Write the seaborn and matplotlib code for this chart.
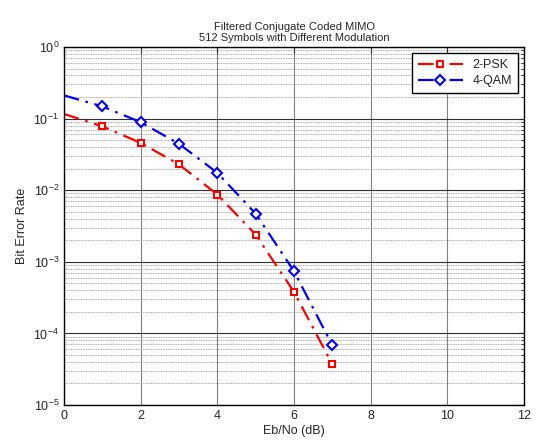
import numpy as np
import pandas as pd
import matplotlib
matplotlib.use("Agg")
import matplotlib.pyplot as plt
import seaborn as sns
from matplotlib.ticker import LogLocator, NullFormatter
from matplotlib.lines import Line2D

ebno = [0, 1, 2, 3, 4, 5, 6, 7]
ber_psk = [0.116, 0.078, 0.0458, 0.0229, 0.0087, 0.0024, 3.8e-4, 3.7e-5]
ber_qam = [0.211, 0.148, 0.089, 0.0444, 0.0175, 0.0047, 7.4e-4, 6.8e-5]
labels = ["2-PSK", "4-QAM"]

df = pd.DataFrame({
    "Eb/No": ebno * 2,
    "BER": ber_psk + ber_qam,
    "Modulation": [labels[0]] * len(ebno) + [labels[1]] * len(ebno),
})

sns.set_style("white")
plt.rcParams['font.family'] = ['Liberation Sans', 'DejaVu Sans']
plt.rcParams['mathtext.default'] = 'regular'

fig = plt.figure(figsize=(5.37, 4.43), dpi=100)
ax = fig.add_axes([64 / 537, 1 - 405 / 443, 460 / 537, 358 / 443])

sns.lineplot(data=df, x="Eb/No", y="BER", hue="Modulation",
             palette={"2-PSK": "#ff0000", "4-QAM": "#0000ff"},
             ax=ax, legend=False, linewidth=1.6)
dash = (0, (7, 3, 1.2, 3))
for line in ax.get_lines():
    line.set_linestyle(dash)

# markers only from x=1 onward
ax.plot(ebno[1:], ber_psk[1:], ls="none", marker="s", ms=5, mfc="white",
        mec="#ff0000", mew=1.5)
ax.plot(ebno[1:], ber_qam[1:], ls="none", marker="D", ms=5, mfc="white",
        mec="#0000ff", mew=1.5)

ax.set_yscale("log")
ax.set_xlim(0, 12)
ax.set_ylim(1e-5, 1)
ax.set_xticks(range(0, 13, 2))
ax.yaxis.set_minor_locator(LogLocator(base=10, subs=np.arange(2, 10), numticks=20))
ax.yaxis.set_minor_formatter(NullFormatter())

ax.grid(True, which="major", axis="y", color="#303030", linewidth=0.8)
ax.grid(True, which="major", axis="x", color="#808080", linewidth=0.8)
ax.grid(True, which="minor", axis="y", color="#909090", linewidth=0.6, linestyle=(0, (1, 1)))
ax.tick_params(which="both", direction="in", top=True, right=True, labelsize=9)
ax.tick_params(which="major", length=4)
ax.tick_params(which="minor", length=2)
for s in ax.spines.values():
    s.set_color("black")
    s.set_linewidth(1.0)

ax.set_xlabel("Eb/No (dB)", fontsize=9, labelpad=2)
ax.set_ylabel("Bit Error Rate", fontsize=9, labelpad=4)
ax.set_title("Filtered Conjugate Coded MIMO\n512 Symbols with Different Modulation",
             fontsize=8, pad=4)

handles = [
    Line2D([], [], color="#ff0000", ls=dash, lw=1.6, marker="s", ms=5, mfc="white", mec="#ff0000", mew=1.5),
    Line2D([], [], color="#0000ff", ls=dash, lw=1.6, marker="D", ms=5, mfc="white", mec="#0000ff", mew=1.5),
]
leg = ax.legend(handles, labels, loc="upper right", fontsize=9, fancybox=False,
                framealpha=1, edgecolor="black", borderaxespad=0.5,
                handlelength=3.6, labelspacing=0.35, borderpad=0.45)
leg.get_frame().set_linewidth(1.0)

fig.savefig("out.png", dpi=100)
